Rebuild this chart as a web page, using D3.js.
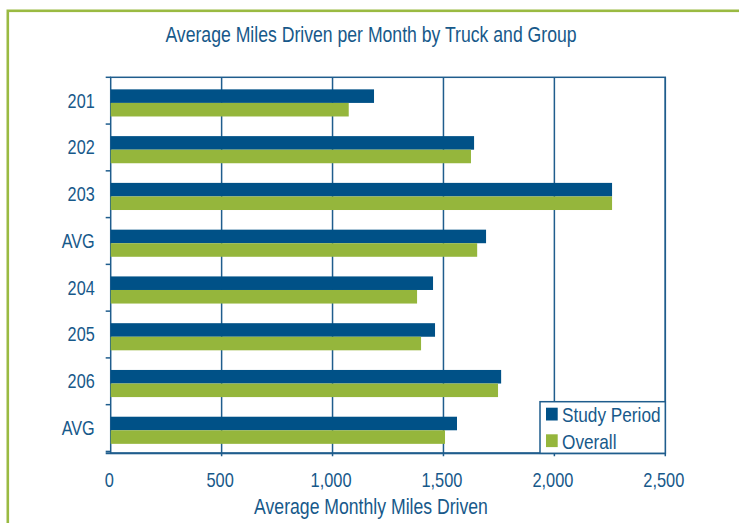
<!DOCTYPE html>
<html>
<head>
<meta charset="utf-8">
<script src="https://cdn.jsdelivr.net/npm/d3@7"></script>
<style>
  html, body { margin: 0; padding: 0; background: #fff; }
  svg { display: block; font-family: "Liberation Sans", Arial, sans-serif; }
  text { fill: #17598a; }
</style>
</head>
<body>
<div id="chart"></div>
<script>
const categories = ["201", "202", "203", "AVG", "204", "205", "206", "AVG"];
const studyPeriod = [1187, 1638, 2260, 1692, 1453, 1462, 1760, 1561];
const overall = [1073, 1624, 2260, 1652, 1381, 1399, 1746, 1507];
const xTicks = [0, 500, 1000, 1500, 2000, 2500];
const seriesNames = ["Study Period", "Overall"];

const width = 739, height = 523;
const margin = { top: 77.3, right: 73.7, bottom: 69.7, left: 110.7 };
const blue = "#005187", green = "#95b63c", line = "#1f5d8d";
const narrow = 0.82; // condensed look, no narrow face installed

// position text with a horizontal squeeze
function place(sel, fx, fy) {
  sel.attr("transform", (d, i) => `translate(${fx(d, i)},${fy(d, i)}) scale(${narrow},1)`);
}

const svg = d3.select("#chart").append("svg")
  .attr("width", width)
  .attr("height", height);

// outer frame, only top and left edges visible
svg.append("rect")
  .attr("x", 7.8).attr("y", 10.8)
  .attr("width", 900).attr("height", 700)
  .attr("fill", "none")
  .attr("stroke", "#9aba42")
  .attr("stroke-width", 2.6);

const x = d3.scaleLinear()
  .domain([0, 2500])
  .range([margin.left, width - margin.right]);

const y = d3.scaleBand()
  .domain(d3.range(categories.length))
  .range([margin.top, height - margin.bottom])
  .paddingInner(0.42)
  .paddingOuter(0.23);

const ySub = d3.scaleBand()
  .domain([0, 1])
  .range([0, y.bandwidth()]);

const plotTop = margin.top, plotBottom = height - margin.bottom;

// vertical grid
svg.append("g")
  .selectAll("line")
  .data(xTicks.slice(1))
  .join("line")
  .attr("x1", d => x(d)).attr("x2", d => x(d))
  .attr("y1", plotTop).attr("y2", plotBottom + 3)
  .attr("stroke", line)
  .attr("stroke-width", 1.5);

// plot frame
svg.append("rect")
  .attr("x", x(0)).attr("y", plotTop)
  .attr("width", x(2500) - x(0))
  .attr("height", plotBottom - plotTop)
  .attr("fill", "none")
  .attr("stroke", line)
  .attr("stroke-width", 1.5);

// bars
const rows = categories.map((c, i) => ({ i, values: [studyPeriod[i], overall[i]] }));
const gRows = svg.append("g")
  .selectAll("g")
  .data(rows)
  .join("g")
  .attr("transform", d => `translate(0,${y(d.i) + 1.3})`);

gRows.selectAll("rect")
  .data(d => d.values.map((v, k) => ({ v, k })))
  .join("rect")
  .attr("x", x(0))
  .attr("y", d => ySub(d.k))
  .attr("width", d => x(d.v) - x(0))
  .attr("height", ySub.bandwidth())
  .attr("fill", d => d.k === 0 ? blue : green);

// category ticks at band edges
const step = y.step();
const edges = d3.range(categories.length + 1).map(i => plotTop + i * step);
svg.append("g")
  .selectAll("line")
  .data(edges)
  .join("line")
  .attr("x1", x(0) - 5).attr("x2", x(0))
  .attr("y1", d => d).attr("y2", d => d)
  .attr("stroke", line)
  .attr("stroke-width", 1.5);

// bottom axis line slightly heavier
svg.append("line")
  .attr("x1", x(0) - 5).attr("x2", x(2500))
  .attr("y1", plotBottom).attr("y2", plotBottom)
  .attr("stroke", line)
  .attr("stroke-width", 2);

// category labels
svg.append("g")
  .selectAll("text")
  .data(categories)
  .join("text")
  .attr("dy", "0.35em")
  .attr("text-anchor", "end")
  .attr("font-size", 19.8)
  .text(d => d)
  .call(place, () => x(0) - 16, (d, i) => plotTop + (i + 0.5) * step);

// x tick labels
const fmt = d3.format(",");
svg.append("g")
  .selectAll("text")
  .data(xTicks)
  .join("text")
  .attr("text-anchor", "middle")
  .attr("font-size", 20)
  .text(d => fmt(d))
  .call(place, d => x(d) - 1.5, () => 487.3);

// titles
svg.append("text")
  .datum("Average Miles Driven per Month by Truck and Group")
  .attr("text-anchor", "middle")
  .attr("font-size", 21.5)
  .text(d => d)
  .call(place, () => 371, () => 41.6);

svg.append("text")
  .datum("Average Monthly Miles Driven")
  .attr("text-anchor", "middle")
  .attr("font-size", 21.5)
  .text(d => d)
  .call(place, () => 371, () => 514);

// legend
const legend = svg.append("g");
legend.append("rect")
  .attr("x", 540).attr("y", 401.7)
  .attr("width", x(2500) - 540)
  .attr("height", plotBottom - 401.7)
  .attr("fill", "#fff")
  .attr("stroke", line)
  .attr("stroke-width", 1.5);

const items = legend.selectAll("g.item")
  .data(seriesNames)
  .join("g")
  .attr("class", "item")
  .attr("transform", (d, i) => `translate(546,${407.7 + i * 26.6})`);

items.append("rect")
  .attr("width", 11.7).attr("height", 12.8)
  .attr("fill", (d, i) => i === 0 ? blue : green);

items.append("text")
  .attr("font-size", 21)
  .text(d => d)
  .call(place, () => 16, () => 14.3);
</script>
</body>
</html>
